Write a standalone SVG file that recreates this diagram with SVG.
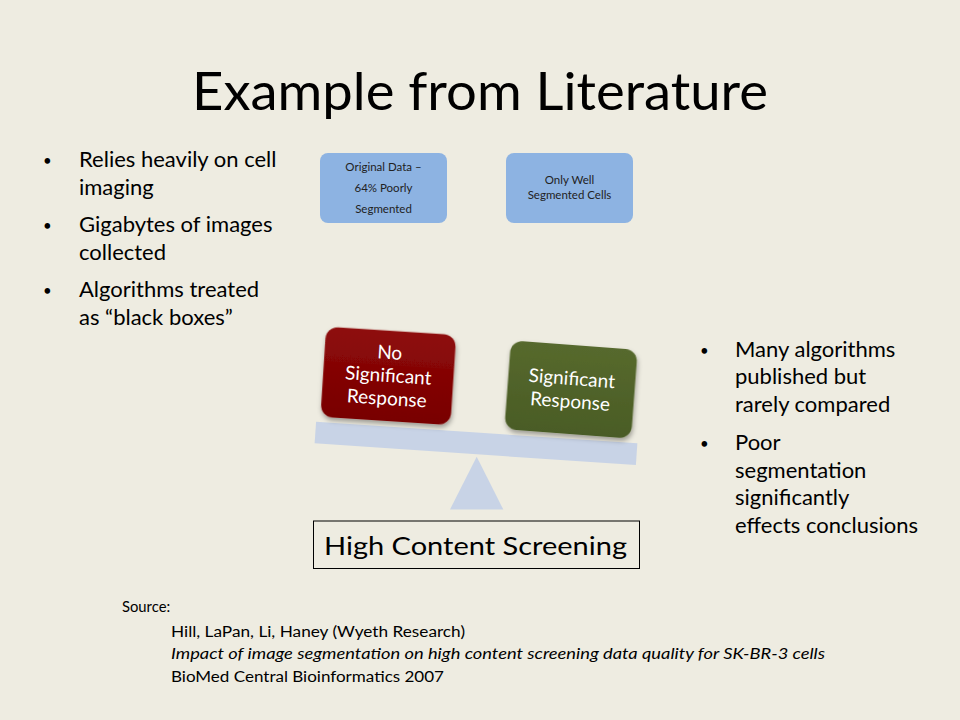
<svg xmlns="http://www.w3.org/2000/svg" width="960" height="720" viewBox="0 0 960 720">
<defs>
<style>
text{font-family:Lato,"Open Sans","Liberation Sans",sans-serif;fill:#000}
.b{font-size:22px}
.d{font-size:15px}
.sm{font-size:11.5px;fill:#222;text-anchor:middle}
.w{font-size:19px;fill:#fff;text-anchor:middle}
.src{font-size:14.8px}
.blue{fill:#8DB3E2}
.lb{fill:#C8D3E6}
</style>
<filter id="sh" x="-20%" y="-20%" width="140%" height="150%">
<feDropShadow dx="1" dy="3" stdDeviation="2.5" flood-color="#000" flood-opacity="0.35"/>
</filter>
<linearGradient id="gr" x1="0" y1="0" x2="0" y2="1">
<stop offset="0" stop-color="#8E0A0A"/><stop offset="1" stop-color="#780000"/>
</linearGradient>
<linearGradient id="gg" x1="0" y1="0" x2="0" y2="1">
<stop offset="0" stop-color="#56692D"/><stop offset="1" stop-color="#4A5C25"/>
</linearGradient>
</defs>
<rect width="960" height="720" fill="#EEECE1"/>
<g id="title">
<text x="480" y="110" font-size="52.8" text-anchor="middle" textLength="576" lengthAdjust="spacingAndGlyphs">Example from Literature</text>
</g>
<g id="left-bullets" class="b">
<text class="d" x="43" y="166">•</text><text x="79" y="167">Relies heavily on cell</text>
<text x="79" y="195">imaging</text>
<text class="d" x="43" y="231">•</text><text x="79" y="232">Gigabytes of images</text>
<text x="79" y="260">collected</text>
<text class="d" x="43" y="296">•</text><text x="79" y="297">Algorithms treated</text>
<text x="79" y="325">as “black boxes”</text>
</g>
<g id="right-bullets" class="b">
<text class="d" x="700" y="356">•</text><text x="735" y="357">Many algorithms</text>
<text x="735" y="384">published but</text>
<text x="735" y="412">rarely compared</text>
<text class="d" x="700" y="449">•</text><text x="735" y="450">Poor</text>
<text x="735" y="478">segmentation</text>
<text x="735" y="505">significantly</text>
<text x="735" y="533">effects conclusions</text>
</g>
<g id="node-original">
<rect class="blue" x="320" y="153" width="127" height="70" rx="8"/>
<text class="sm" x="383.5" y="171">Original Data –</text>
<text class="sm" x="383.5" y="192">64% Poorly</text>
<text class="sm" x="383.5" y="213">Segmented</text>
</g>
<g id="node-well">
<rect class="blue" x="506" y="153" width="127" height="70" rx="8"/>
<text class="sm" x="569.5" y="184">Only Well</text>
<text class="sm" x="569.5" y="199">Segmented Cells</text>
</g>
<g id="beam">
<rect class="lb" x="315" y="432.5" width="322" height="21.7" transform="rotate(3.86 476 443.3)"/>
</g>
<g id="fulcrum">
<polygon class="lb" points="476.7,456.7 503.3,509.5 450,509.5"/>
</g>
<g id="node-no-sig" transform="rotate(3.7 388.3 375.8)">
<rect x="323.2" y="330.7" width="130.2" height="90.2" rx="12" fill="url(#gr)" filter="url(#sh)"/>
<text class="w" x="388.3" y="359">No</text>
<text class="w" x="388.3" y="382">Significant</text>
<text class="w" x="388.3" y="405">Response</text>
</g>
<g id="node-sig" transform="rotate(4.3 571 389.5)">
<rect x="507.5" y="345" width="127" height="89" rx="12" fill="url(#gg)" filter="url(#sh)"/>
<text class="w" x="571" y="385">Significant</text>
<text class="w" x="571" y="408">Response</text>
</g>
<g id="node-hcs">
<rect x="313.5" y="521" width="326" height="47.5" fill="none" stroke="#000" stroke-width="1"/>
<text x="324" y="555" font-size="25.2" textLength="303" lengthAdjust="spacingAndGlyphs">High Content Screening</text>
</g>
<g id="connectors"></g>
<g id="source" class="src">
<text x="122" y="612">Source:</text>
<text x="171" y="637" textLength="294" lengthAdjust="spacingAndGlyphs">Hill, LaPan, Li, Haney (Wyeth Research)</text>
<text x="171" y="659" font-style="italic" textLength="654" lengthAdjust="spacingAndGlyphs">Impact of image segmentation on high content screening data quality for SK-BR-3 cells</text>
<text x="171" y="682" textLength="273" lengthAdjust="spacingAndGlyphs">BioMed Central Bioinformatics 2007</text>
</g>
</svg>
